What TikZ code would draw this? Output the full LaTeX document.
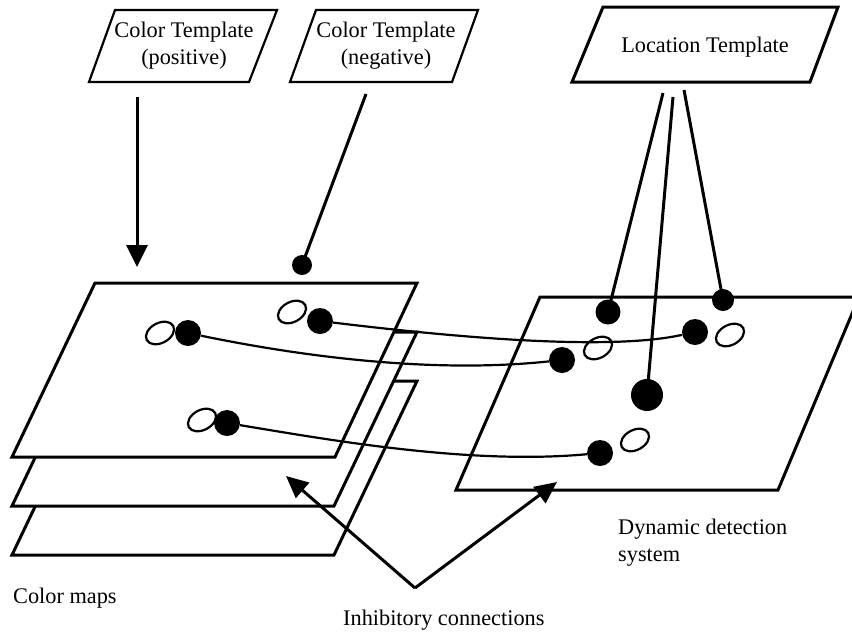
\documentclass[tikz,border=0pt]{standalone}
\usepackage{fontspec}
\setmainfont{Liberation Serif}
\usetikzlibrary{arrows.meta,shapes.geometric}
\begin{document}
\begin{tikzpicture}[x=1pt,y=-1pt,
  box/.style={line width=2.2pt, line join=miter},
  plane/.style={line width=3pt, fill=white, line join=miter},
  fdot/.style={circle, fill=black, inner sep=0pt, minimum size=#1},
  fdot/.default=26pt,
  odot/.style={ellipse, draw, line width=2.2pt, fill=white, inner sep=0pt, minimum width=30pt, minimum height=20pt, rotate=28},
  lab/.style={font=\fontsize{22.3}{27}\selectfont, inner sep=0pt},
  link/.style={line width=2.2pt},
  feed/.style={line width=3pt},
  inh/.style={line width=3pt, -{Triangle[width=20pt,length=22pt]}},
]
\useasboundingbox (0,0) rectangle (852,633);

% template boxes
\draw[box] (115,10) -- (277,10) -- (249,82) -- (89,82) -- cycle;
\node[lab, align=center] (pos) at (184,46) {Color Template\\(positive)};
\draw[box] (316,10) -- (478,10) -- (452,82) -- (290,82) -- cycle;
\node[lab, align=center] (neg) at (386,46) {Color Template\\(negative)};
\draw[box, line width=3pt] (603,7) -- (838,7) -- (810,82) -- (572,82) -- cycle;
\node[lab] (loc) at (705,47) {Location Template};

% colour map planes
\draw[plane] (95,381) -- (417,381) -- (334,555) -- (12,555) -- cycle;
\draw[plane] (95,332) -- (417,332) -- (334,506) -- (12,506) -- cycle;
\draw[plane] (95,283) -- (417,283) -- (335,457) -- (12,457) -- cycle;

% dynamic detection plane
\draw[plane] (540,297) -- (859,297) -- (778,490) -- (456,490) -- cycle;

% open ellipses
\node[odot] (o1) at (160,333) {};
\node[odot] (o2) at (292,312) {};
\node[odot] (o3) at (202,420) {};
\node[odot] (o4) at (598,348) {};
\node[odot] (o5) at (730,335) {};
\node[odot] (o6) at (635,440) {};

% filled dots
\node[fdot] (c1) at (188,333) {};
\node[fdot] (c2) at (320,321) {};
\node[fdot] (c3) at (227,423) {};
\node[fdot=20pt] (nd) at (302,265) {};
\node[fdot=25pt] (l1) at (608,312) {};
\node[fdot=22pt] (l3) at (723,300) {};
\node[fdot] (d2) at (695,332) {};
\node[fdot] (d1) at (562,360) {};
\node[fdot=32pt] (l2) at (647,395) {};
\node[fdot] (d3) at (600,453) {};

% lateral connections
\draw[link] (c1) .. controls (280,352) and (420,375) .. (d1);
\draw[link] (c2) .. controls (420,333) and (600,353) .. (d2);
\draw[link] (c3) .. controls (330,440) and (470,465) .. (d3);

% template feeds
\coordinate (ps) at (137,97);
\coordinate (pe) at (137,267);
\draw[feed, -{Triangle[width=21pt,length=22pt]}] (ps) -- (pe);
\coordinate (ns) at (366,94);
\draw[feed] (ns) -- (nd.center);
\coordinate (ls1) at (663,93);
\coordinate (ls2) at (673,97);
\coordinate (ls3) at (684,90);
\draw[feed] (ls1) -- (l1.center);
\draw[feed] (ls2) -- (l2.center);
\draw[feed] (ls3) -- (l3.center);

% inhibitory connections
\coordinate (iv) at (415,588);
\coordinate (ia) at (286,476);
\coordinate (ib) at (557,482);
\draw[inh] (iv) -- (ia);
\draw[inh] (iv) -- (ib);

% labels
\node[lab, anchor=west] (cm) at (13,598) {Color maps};
\node[lab, anchor=west] (ic) at (343,620) {Inhibitory connections};
\node[lab, anchor=west, align=left] (dd) at (618,543) {Dynamic detection\\system};
\end{tikzpicture}
\end{document}
